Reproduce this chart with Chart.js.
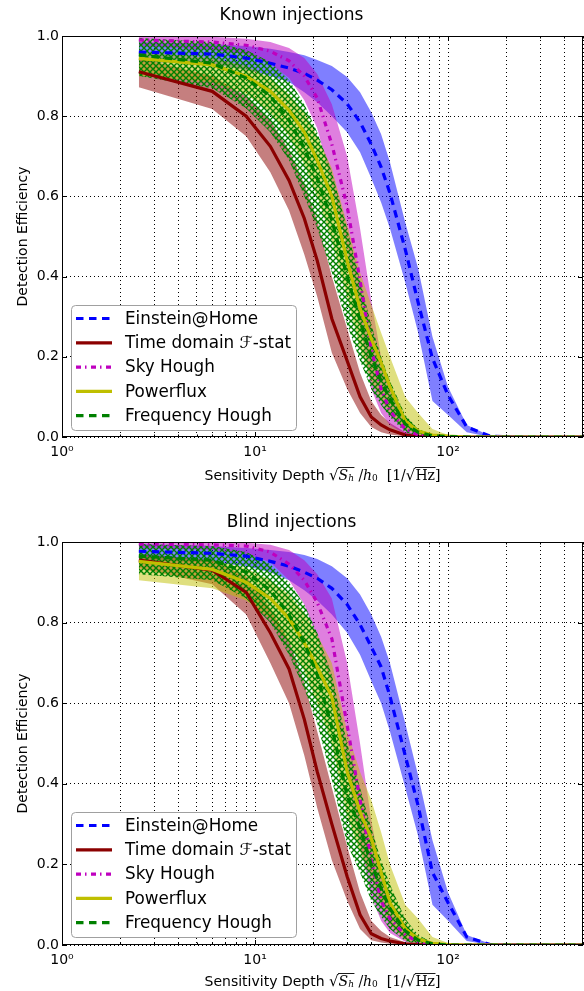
<!DOCTYPE html>
<html lang="en">
<head>
<meta charset="UTF-8">
<title>Detection efficiency: known and blind injections</title>
<script src="https://cdn.jsdelivr.net/npm/chart.js"></script>
<style>
  body { margin: 0; background: #fff; }
  .panel { position: relative; width: 584px; }
  #knownWrap { height: 490px; }
  #blindWrap { height: 501px; }
</style>
</head>
<body>
<div class="panel" id="knownWrap"><canvas id="knownChart"></canvas></div>
<div class="panel" id="blindWrap"><canvas id="blindChart"></canvas></div>
<script>
// sensitivity depths where efficiencies were read
const depths = [2.5, 6, 9, 12, 15, 18, 21, 25, 30, 35, 40, 45, 50, 60, 70, 83, 100, 125, 165, 250, 500];
const gridDepths = [1, 2, 3, 4, 5, 6, 7, 8, 9, 10, 20, 30, 40, 50, 60, 70, 80, 90, 100, 200, 300, 400, 500];
const methods = ['Einstein@Home', 'Time domain \u2131-stat', 'Sky Hough', 'Powerflux', 'Frequency Hough'];

// Known injections
const knownEH     = [0.960, 0.955, 0.945, 0.932, 0.920, 0.907, 0.890, 0.866, 0.831, 0.785, 0.730, 0.673, 0.608, 0.468, 0.335, 0.196, 0.104, 0.025, 0.002, 0, 0];
const knownEHHi   = [0.985, 0.980, 0.975, 0.968, 0.960, 0.952, 0.940, 0.925, 0.898, 0.860, 0.810, 0.755, 0.685, 0.535, 0.420, 0.250, 0.125, 0.030, 0.003, 0, 0];
const knownEHLo   = [0.935, 0.930, 0.915, 0.900, 0.885, 0.860, 0.835, 0.800, 0.760, 0.710, 0.645, 0.585, 0.520, 0.385, 0.260, 0.090, 0.055, 0.012, 0, 0, 0];
const knownTD     = [0.911, 0.862, 0.800, 0.725, 0.640, 0.545, 0.440, 0.295, 0.190, 0.100, 0.050, 0.030, 0.018, 0.005, 0.001, 0, 0, 0, 0, 0, 0];
const knownTDHi   = [0.945, 0.900, 0.850, 0.790, 0.715, 0.630, 0.540, 0.400, 0.270, 0.160, 0.090, 0.055, 0.035, 0.012, 0.004, 0.001, 0, 0, 0, 0, 0];
const knownTDLo   = [0.872, 0.818, 0.750, 0.660, 0.565, 0.455, 0.350, 0.210, 0.120, 0.060, 0.025, 0.012, 0.006, 0.001, 0, 0, 0, 0, 0, 0, 0];
const knownSky    = [0.990, 0.985, 0.977, 0.962, 0.938, 0.900, 0.845, 0.730, 0.575, 0.390, 0.220, 0.120, 0.065, 0.020, 0.005, 0, 0, 0, 0, 0, 0];
const knownSkyHi  = [1.000, 0.998, 0.993, 0.985, 0.970, 0.945, 0.905, 0.830, 0.700, 0.520, 0.340, 0.200, 0.120, 0.045, 0.012, 0.002, 0, 0, 0, 0, 0];
const knownSkyLo  = [0.975, 0.965, 0.955, 0.930, 0.895, 0.840, 0.770, 0.630, 0.470, 0.280, 0.120, 0.060, 0.030, 0.006, 0, 0, 0, 0, 0, 0, 0];
const knownPF     = [0.944, 0.928, 0.900, 0.862, 0.815, 0.760, 0.690, 0.600, 0.440, 0.320, 0.245, 0.185, 0.125, 0.040, 0.015, 0.005, 0.002, 0, 0, 0, 0];
const knownPFHi   = [0.960, 0.945, 0.925, 0.895, 0.855, 0.810, 0.750, 0.670, 0.530, 0.410, 0.330, 0.260, 0.200, 0.100, 0.060, 0.020, 0.005, 0, 0, 0, 0];
const knownPFLo   = [0.900, 0.885, 0.855, 0.810, 0.750, 0.680, 0.600, 0.490, 0.350, 0.220, 0.140, 0.090, 0.060, 0.020, 0.005, 0.001, 0, 0, 0, 0, 0];
const knownFH     = [0.953, 0.932, 0.895, 0.850, 0.790, 0.720, 0.645, 0.540, 0.400, 0.290, 0.200, 0.140, 0.095, 0.032, 0.012, 0.003, 0.001, 0, 0, 0, 0];
const knownFHHi   = [0.995, 0.985, 0.965, 0.935, 0.890, 0.830, 0.760, 0.660, 0.520, 0.390, 0.280, 0.200, 0.140, 0.055, 0.020, 0.006, 0.002, 0, 0, 0, 0];
const knownFHLo   = [0.900, 0.870, 0.820, 0.760, 0.690, 0.600, 0.520, 0.410, 0.280, 0.190, 0.120, 0.080, 0.050, 0.012, 0.003, 0, 0, 0, 0, 0, 0];

// Blind injections
const blindEH     = [0.977, 0.972, 0.965, 0.952, 0.940, 0.925, 0.910, 0.885, 0.845, 0.795, 0.740, 0.690, 0.617, 0.470, 0.345, 0.180, 0.105, 0.020, 0.001, 0, 0];
const blindEHHi   = [0.995, 0.990, 0.985, 0.980, 0.975, 0.968, 0.958, 0.940, 0.910, 0.870, 0.820, 0.765, 0.700, 0.550, 0.420, 0.260, 0.130, 0.025, 0.003, 0, 0];
const blindEHLo   = [0.955, 0.950, 0.940, 0.925, 0.905, 0.880, 0.855, 0.820, 0.775, 0.720, 0.655, 0.600, 0.530, 0.390, 0.270, 0.100, 0.060, 0.010, 0, 0, 0];
const blindTD     = [0.955, 0.930, 0.875, 0.775, 0.685, 0.560, 0.430, 0.300, 0.170, 0.075, 0.028, 0.016, 0.010, 0.003, 0.001, 0, 0, 0, 0, 0, 0];
const blindTDHi   = [0.970, 0.955, 0.915, 0.835, 0.755, 0.650, 0.530, 0.390, 0.245, 0.130, 0.060, 0.035, 0.020, 0.007, 0.002, 0, 0, 0, 0, 0, 0];
const blindTDLo   = [0.935, 0.895, 0.820, 0.700, 0.600, 0.470, 0.340, 0.210, 0.110, 0.040, 0.012, 0.006, 0.003, 0, 0, 0, 0, 0, 0, 0, 0];
const blindSky    = [0.995, 0.993, 0.990, 0.975, 0.945, 0.905, 0.850, 0.760, 0.545, 0.360, 0.210, 0.110, 0.065, 0.025, 0.008, 0.001, 0, 0, 0, 0, 0];
const blindSkyHi  = [1.000, 1.000, 0.998, 0.993, 0.980, 0.955, 0.920, 0.860, 0.700, 0.500, 0.310, 0.180, 0.110, 0.045, 0.015, 0.003, 0, 0, 0, 0, 0];
const blindSkyLo  = [0.985, 0.980, 0.970, 0.950, 0.905, 0.845, 0.760, 0.640, 0.430, 0.250, 0.120, 0.060, 0.030, 0.008, 0.002, 0, 0, 0, 0, 0, 0];
const blindPF     = [0.952, 0.932, 0.900, 0.860, 0.810, 0.750, 0.690, 0.615, 0.430, 0.330, 0.265, 0.180, 0.105, 0.040, 0.015, 0.004, 0.001, 0, 0, 0, 0];
const blindPFHi   = [0.965, 0.955, 0.935, 0.905, 0.870, 0.825, 0.770, 0.700, 0.530, 0.430, 0.360, 0.280, 0.200, 0.100, 0.065, 0.020, 0.005, 0, 0, 0, 0];
const blindPFLo   = [0.905, 0.885, 0.855, 0.810, 0.750, 0.680, 0.600, 0.500, 0.320, 0.230, 0.170, 0.100, 0.050, 0.012, 0.003, 0, 0, 0, 0, 0, 0];
const blindFH     = [0.965, 0.955, 0.925, 0.880, 0.820, 0.750, 0.670, 0.540, 0.370, 0.290, 0.200, 0.140, 0.090, 0.035, 0.012, 0.003, 0, 0, 0, 0, 0];
const blindFHHi   = [0.995, 0.990, 0.975, 0.945, 0.900, 0.845, 0.775, 0.670, 0.500, 0.390, 0.290, 0.210, 0.150, 0.065, 0.025, 0.006, 0.001, 0, 0, 0, 0];
const blindFHLo   = [0.920, 0.905, 0.860, 0.800, 0.720, 0.635, 0.550, 0.410, 0.250, 0.180, 0.110, 0.070, 0.040, 0.010, 0.002, 0, 0, 0, 0, 0, 0];

const methodStyles = [
  { color: '#0000ff', band: 'rgba(0,0,255,0.5)',   dash: [7.5, 5.5] },
  { color: '#8b0000', band: 'rgba(139,0,0,0.5)',   dash: [] },
  { color: '#bf00bf', band: 'rgba(191,0,191,0.5)', dash: [5, 4, 1.5, 4.5] },
  { color: '#bfbf00', band: 'rgba(191,191,0,0.5)', dash: [] },
  { color: '#008000', band: 'hatch',               dash: [7.5, 5.5] }
];

Chart.defaults.font.family = "'DejaVu Sans', sans-serif";
Chart.defaults.color = '#000';

function hatchPattern(color) {
  const tile = document.createElement('canvas');
  tile.width = 6; tile.height = 6;
  const g = tile.getContext('2d');
  g.strokeStyle = color;
  g.lineWidth = 1.4;
  g.beginPath();
  g.moveTo(-1, -1); g.lineTo(7, 7);
  g.moveTo(7, -1); g.lineTo(-1, 7);
  g.stroke();
  return g.createPattern(tile, 'repeat');
}

function makeDatasets(series) {
  const pts = arr => depths.map((x, i) => ({ x: x, y: arr[i] }));
  const lines = [], bands = [];
  // reverse so Frequency Hough ends up drawn on top
  for (let m = methods.length - 1; m >= 0; m--) {
    const st = methodStyles[m];
    const [mid, lo, hi] = series[m];
    lines.push({
      label: methods[m], data: pts(mid), borderColor: st.color, borderWidth: 3.2,
      borderDash: st.dash, borderCapStyle: 'butt', pointRadius: 0, fill: false, tension: 0
    });
    bands.push({
      label: methods[m] + ' upper', data: pts(hi), borderColor: 'transparent', borderWidth: 0,
      pointRadius: 0, tension: 0, fill: '+1',
      backgroundColor: st.band === 'hatch' ? hatchPattern(st.color) : st.band
    });
    bands.push({
      label: methods[m] + ' lower', data: pts(lo), borderColor: 'transparent', borderWidth: 0,
      pointRadius: 0, tension: 0, fill: false
    });
  }
  return lines.concat(bands);
}

function drawDepthLabel(ctx, cx, cy) {
  const parts = [
    { t: 'Sensitivity Depth ', f: '14px "DejaVu Sans"' },
    { t: '\u221a', f: '15px "DejaVu Serif"' },
    { t: 'S', f: 'italic 14px "DejaVu Serif"', bar: 1 },
    { t: 'h', f: 'italic 9px "DejaVu Serif"', dy: 3, bar: 1 },
    { t: ' /', f: '14px "DejaVu Serif"' },
    { t: 'h', f: 'italic 14px "DejaVu Serif"' },
    { t: '0', f: '9px "DejaVu Serif"', dy: 3 },
    { t: '  [1/', f: '14px "DejaVu Serif"' },
    { t: '\u221a', f: '15px "DejaVu Serif"' },
    { t: 'Hz', f: '14px "DejaVu Serif"', bar: 2 },
    { t: ']', f: '14px "DejaVu Serif"' }
  ];
  let total = 0;
  parts.forEach(p => { ctx.font = p.f; p.w = ctx.measureText(p.t).width; total += p.w; });
  let x = cx - total / 2;
  const bars = {};
  ctx.textBaseline = 'middle';
  ctx.textAlign = 'left';
  ctx.fillStyle = '#000';
  parts.forEach(p => {
    ctx.font = p.f;
    ctx.fillText(p.t, x, cy + (p.dy || 0));
    if (p.bar) {
      const b = bars[p.bar] || (bars[p.bar] = { x0: x, x1: x });
      b.x1 = x + p.w;
    }
    x += p.w;
  });
  ctx.strokeStyle = '#000';
  ctx.lineWidth = 0.9;
  Object.values(bars).forEach(b => {
    ctx.beginPath();
    ctx.moveTo(b.x0 - 0.5, cy - 8.5);
    ctx.lineTo(b.x1 + 0.5, cy - 8.5);
    ctx.stroke();
  });
}

const frameAndLegend = {
  id: 'frameAndLegend',
  afterDatasetsDraw(chart, args, opts) {
    const { ctx, chartArea: a, scales: { x, y } } = chart;
    ctx.save();
    ctx.strokeStyle = '#000';
    ctx.lineWidth = 1;
    ctx.setLineDash([]);
    // inward ticks on all four sides
    ctx.beginPath();
    x.ticks.forEach(t => {
      const px = Math.round(x.getPixelForValue(t.value)) + 0.5;
      const lg = Math.log10(t.value);
      const len = Math.abs(lg - Math.round(lg)) < 1e-9 ? 5 : 2.5;
      ctx.moveTo(px, a.bottom); ctx.lineTo(px, a.bottom - len);
      ctx.moveTo(px, a.top); ctx.lineTo(px, a.top + len);
    });
    y.ticks.forEach(t => {
      const py = Math.round(y.getPixelForValue(t.value)) + 0.5;
      ctx.moveTo(a.left, py); ctx.lineTo(a.left + 5, py);
      ctx.moveTo(a.right, py); ctx.lineTo(a.right - 5, py);
    });
    ctx.stroke();
    ctx.strokeRect(Math.round(a.left) + 0.5, Math.round(a.top) + 0.5,
      Math.round(a.right - a.left) - 1, Math.round(a.bottom - a.top) - 1);

    // legend box in the lower left corner
    const bw = 225, bh = 125;
    const bx = a.left + 9, by = a.bottom - opts.legendGap - bh;
    ctx.fillStyle = '#fff';
    ctx.strokeStyle = '#a0a0a0';
    ctx.beginPath();
    ctx.roundRect(bx + 0.5, by + 0.5, bw, bh, 4);
    ctx.fill();
    ctx.stroke();
    ctx.font = '16.8px "DejaVu Sans"';
    ctx.textBaseline = 'middle';
    ctx.textAlign = 'left';
    methods.forEach((name, i) => {
      const st = methodStyles[i];
      const ry = by + 13.5 + i * 24.3;
      ctx.strokeStyle = st.color;
      ctx.lineWidth = 3.2;
      ctx.lineCap = 'butt';
      ctx.setLineDash(st.dash);
      ctx.beginPath();
      ctx.moveTo(bx + 5, ry);
      ctx.lineTo(bx + 41, ry);
      ctx.stroke();
      ctx.setLineDash([]);
      ctx.fillStyle = '#000';
      ctx.fillText(name, bx + 54, ry + 1);
    });
    ctx.restore();
  },
  afterDraw(chart, args, opts) {
    const { ctx, chartArea: a } = chart;
    ctx.save();
    drawDepthLabel(ctx, (a.left + a.right) / 2, opts.titleY);
    ctx.restore();
  }
};

const supDigits = ['\u2070', '\u00b9', '\u00b2', '\u00b3'];

function makeChart(canvasId, title, series, layout) {
  return new Chart(document.getElementById(canvasId), {
    type: 'line',
    data: { datasets: makeDatasets(series) },
    plugins: [frameAndLegend],
    options: {
      responsive: true,
      maintainAspectRatio: false,
      devicePixelRatio: 1,
      animation: false,
      events: [],
      layout: { padding: { left: 0, right: 1, top: 0, bottom: 0 } },
      plugins: {
        legend: { display: false },
        tooltip: { enabled: false },
        filler: { drawTime: 'beforeDatasetsDraw' },
        title: {
          display: true, text: title, color: '#000',
          font: { size: 17, weight: 'normal' },
          padding: { top: layout.titleTop, bottom: layout.titleBottom }
        },
        frameAndLegend: { titleY: layout.xTitleY, legendGap: layout.legendGap }
      },
      scales: {
        x: {
          type: 'logarithmic', min: 1, max: 500,
          afterBuildTicks: s => { s.ticks = gridDepths.map(v => ({ value: v })); },
          afterFit: s => { s.height = layout.xAxisH; s.paddingLeft = 0; s.paddingRight = 0; },
          ticks: {
            autoSkip: false, maxRotation: 0, minRotation: 0, padding: 6.6,
            font: { size: 14 }, color: '#000',
            callback: v => {
              const lg = Math.log10(v);
              return Math.abs(lg - Math.round(lg)) < 1e-9 ? '10' + supDigits[Math.round(lg)] : '';
            }
          },
          grid: { color: '#000', lineWidth: 1, drawTicks: false },
          border: { display: false, dash: [1, 3] }
        },
        y: {
          min: 0, max: 1,
          afterFit: s => { s.width = 62; s.paddingTop = 0; s.paddingBottom = 0; },
          ticks: { stepSize: 0.2, padding: 3, font: { size: 14 }, color: '#000', callback: v => v.toFixed(1) },
          grid: { color: '#000', lineWidth: 1, drawTicks: false },
          border: { display: false, dash: [1, 3] },
          title: {
            display: true, text: 'Detection Efficiency', color: '#000',
            font: { size: 14 }, padding: { top: 14.6, bottom: 0 }
          }
        }
      }
    }
  });
}

makeChart('knownChart', 'Known injections', [
  [knownEH, knownEHLo, knownEHHi],
  [knownTD, knownTDLo, knownTDHi],
  [knownSky, knownSkyLo, knownSkyHi],
  [knownPF, knownPFLo, knownPFHi],
  [knownFH, knownFHLo, knownFHHi]
], { titleTop: 5.8, titleBottom: 9.8, xAxisH: 53, xTitleY: 476, legendGap: 7 });

makeChart('blindChart', 'Blind injections', [
  [blindEH, blindEHLo, blindEHHi],
  [blindTD, blindTDLo, blindTDHi],
  [blindSky, blindSkyLo, blindSkyHi],
  [blindPF, blindPFLo, blindPFHi],
  [blindFH, blindFHLo, blindFHHi]
], { titleTop: 22.8, titleBottom: 8.8, xAxisH: 46, xTitleY: 492, legendGap: 8 });
</script>
</body>
</html>
